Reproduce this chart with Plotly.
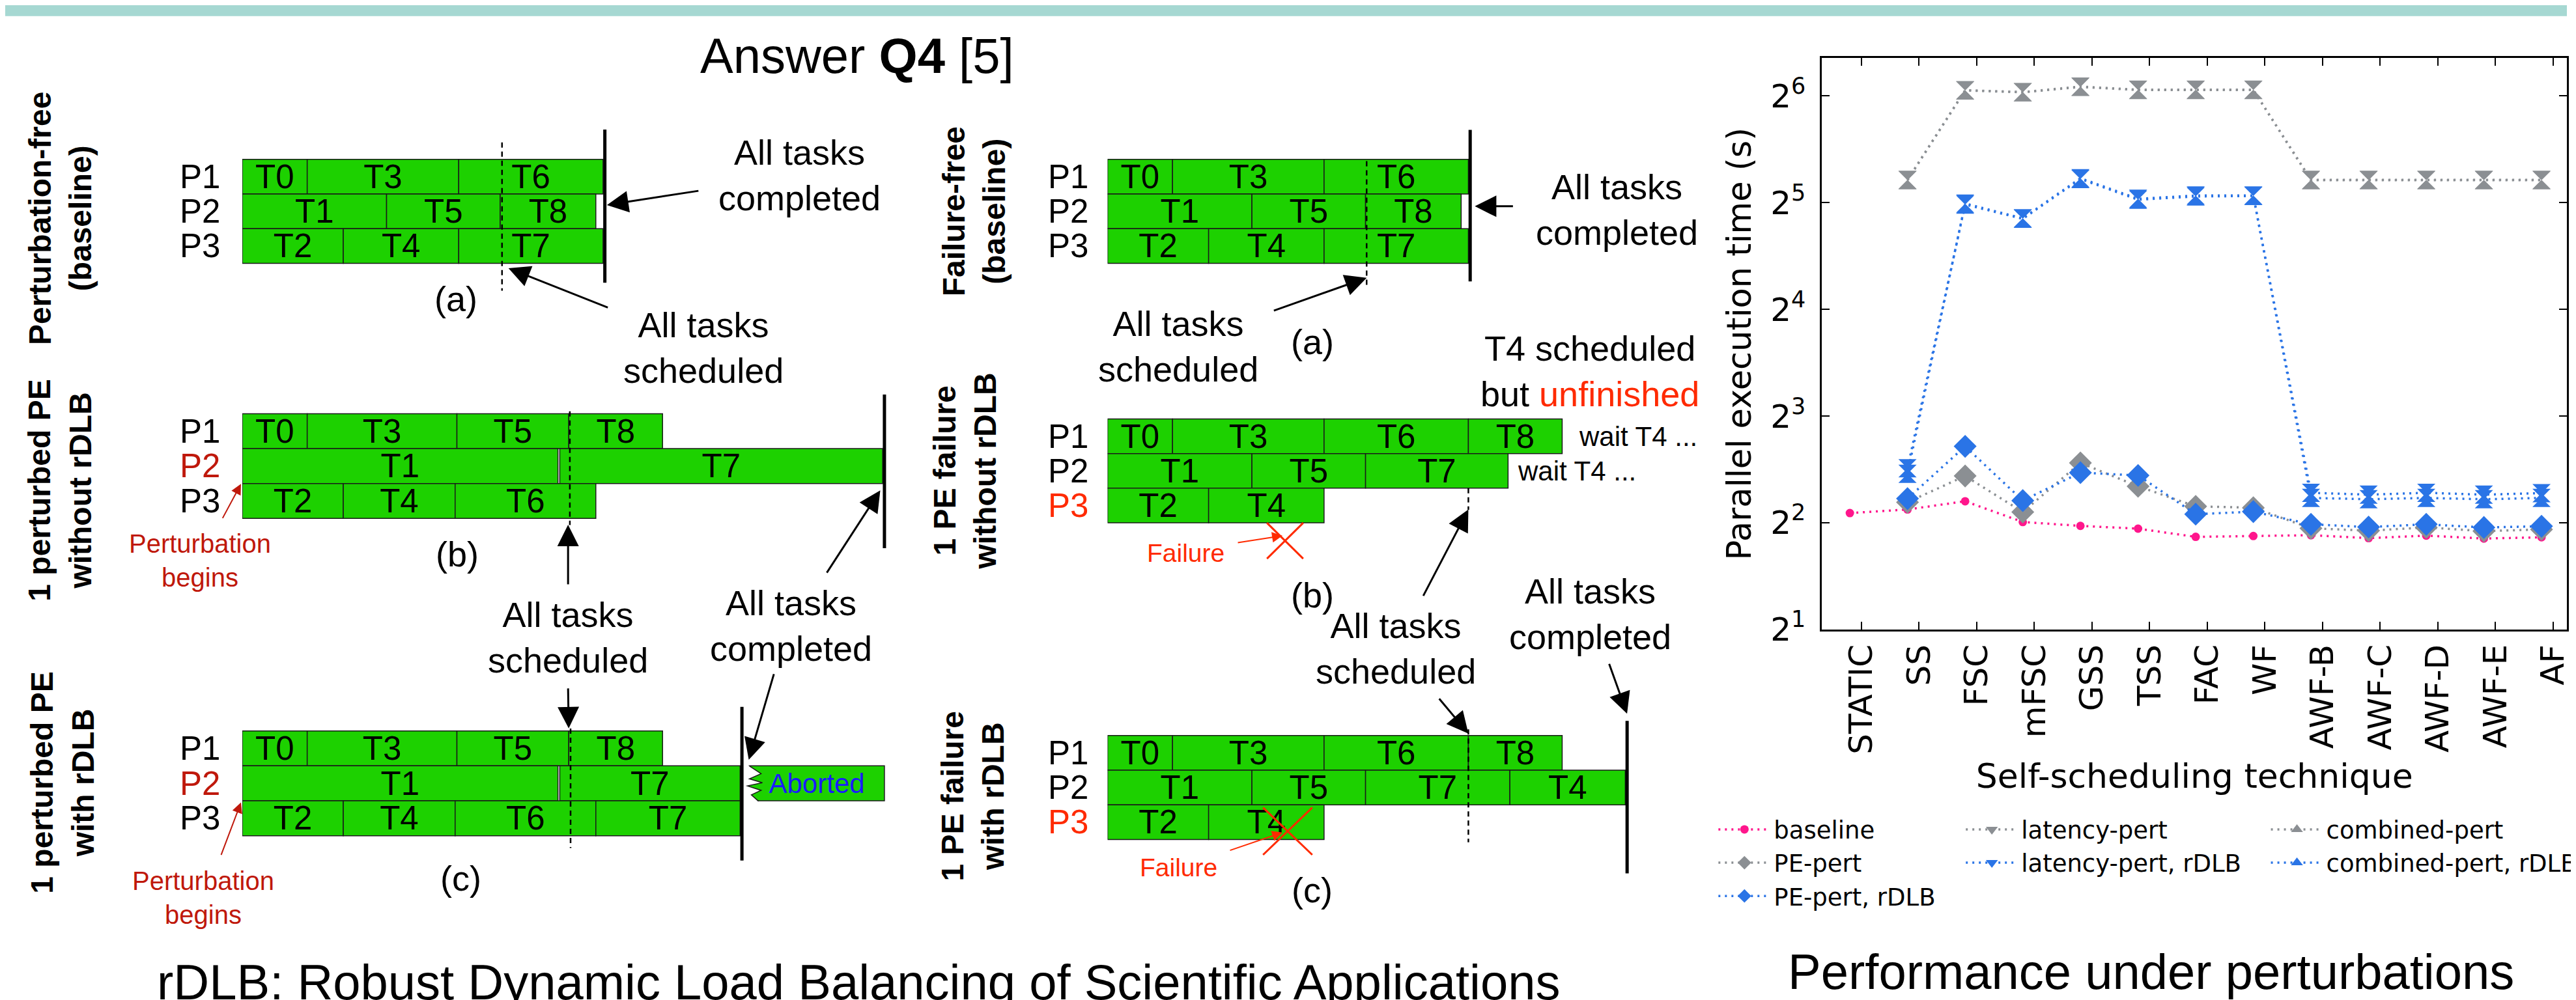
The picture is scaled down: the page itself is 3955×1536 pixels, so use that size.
import math
import plotly.graph_objects as go

W, H = 3955, 1536


def fx(p):
    return p / W


def fy(p):
    return 1 - p / H


# ------------------------------------------------------------------
# DATA : task schedules (processor row 0=P1, 1=P2, 2=P3; times in units)
# ------------------------------------------------------------------
proc_names = ["P1", "P2", "P3"]

la_proc = [0, 0, 0, 1, 1, 1, 2, 2, 2]
la_task = ["T0", "T3", "T6", "T1", "T5", "T8", "T2", "T4", "T7"]
la_start = [0, 18, 60, 0, 40, 71.5, 0, 28, 60]
la_end = [18, 60, 100, 40, 71.5, 98, 28, 60, 100]
la_sched, la_done = 72, 100.5

lb_proc = [0, 0, 0, 0, 1, 1, 2, 2, 2]
lb_task = ["T0", "T3", "T5", "T8", "T1", "T7", "T2", "T4", "T6"]
lb_start = [0, 18, 59.5, 90.5, 0, 88, 0, 28, 59]
lb_end = [18, 59.5, 90.5, 116.5, 87.5, 177.5, 28, 59, 98]
lb_sched, lb_done = 90.8, 178

lc_proc = [0, 0, 0, 0, 1, 1, 2, 2, 2, 2]
lc_task = ["T0", "T3", "T5", "T8", "T1", "T7", "T2", "T4", "T6", "T7"]
lc_start = [0, 18, 59.5, 90.5, 0, 88, 0, 28, 59, 98]
lc_end = [18, 59.5, 90.5, 116.5, 87.5, 138, 28, 59, 98, 138]
lc_abort_proc = [1]
lc_abort_task = ["Aborted"]
lc_abort_start = [140.5]
lc_abort_end = [178]
lc_sched, lc_done = 91, 138.5

ma_proc = [0, 0, 0, 1, 1, 1, 2, 2, 2]
ma_task = ["T0", "T3", "T6", "T1", "T5", "T8", "T2", "T4", "T7"]
ma_start = [0, 18, 60, 0, 40, 71.5, 0, 28, 60]
ma_end = [18, 60, 100, 40, 71.5, 98, 28, 60, 100]
ma_sched, ma_done = 71.8, 100.5

mb_proc = [0, 0, 0, 0, 1, 1, 1, 2, 2]
mb_task = ["T0", "T3", "T6", "T8", "T1", "T5", "T7", "T2", "T4"]
mb_start = [0, 18, 60, 100, 0, 40, 71.5, 0, 28]
mb_end = [18, 60, 100, 126, 40, 71.5, 111, 28, 60]
mb_sched = 100

mc_proc = [0, 0, 0, 0, 1, 1, 1, 1, 2, 2]
mc_task = ["T0", "T3", "T6", "T8", "T1", "T5", "T7", "T4", "T2", "T4"]
mc_start = [0, 18, 60, 100, 0, 40, 71.5, 111.5, 0, 28]
mc_end = [18, 60, 100, 126, 40, 71.5, 111.5, 143.5, 28, 60]
mc_sched, mc_done = 100, 144

# ------------------------------------------------------------------
# DATA : performance chart (parallel execution time, seconds)
# ------------------------------------------------------------------
categories = ["STATIC", "SS", "FSC", "mFSC", "GSS", "TSS", "FAC", "WF",
              "AWF-B", "AWF-C", "AWF-D", "AWF-E", "AF"]
baseline = [4.26, 4.36, 4.60, 4.02, 3.92, 3.85, 3.65, 3.67, 3.69, 3.62, 3.68, 3.61, 3.64]
pe_pert = [None, 4.57, 5.42, 4.29, 5.90, 5.07, 4.45, 4.41, 3.86, 3.80, 3.88, 3.79, 3.83]
latency_pert = [None, 37.1, 66.4, 65.6, 68.0, 66.6, 66.6, 66.6, 37.1, 37.1, 37.1, 37.1, 37.1]
combined_pert = [None, 37.0, 66.3, 65.5, 67.8, 66.5, 66.5, 66.5, 37.0, 37.0, 37.0, 37.0, 37.0]
pe_rdlb = [None, 4.68, 6.57, 4.62, 5.54, 5.44, 4.23, 4.30, 3.96, 3.89, 3.96, 3.88, 3.91]
latency_rdlb = [None, 5.50, 31.8, 28.9, 37.5, 32.8, 33.5, 33.5, 4.70, 4.66, 4.70, 4.66, 4.70]
combined_rdlb = [None, 5.70, 31.6, 28.8, 37.3, 32.6, 33.3, 33.4, 4.86, 4.80, 4.86, 4.80, 4.85]
ytick_vals = [2, 4, 8, 16, 32, 64]
ytick_text = ["2<sup>1</sup>", "2<sup>2</sup>", "2<sup>3</sup>",
              "2<sup>4</sup>", "2<sup>5</sup>", "2<sup>6</sup>"]

# ------------------------------------------------------------------
# STYLE
# ------------------------------------------------------------------
SANS = "Liberation Sans"
DJV = "DejaVu Sans"
GREEN = "#1dd100"
RED_DARK = "#bf180b"
RED = "#ff2a00"
GRAY = "#8b8f93"
BLUE = "#2a74e6"
PINK = "#ff168c"
TEAL = "#a6d8d2"
SCALE = 5.57  # px per time unit

fig = go.Figure()
shapes = []
annos = []

gantts = [
    dict(p=la_proc, t=la_task, s=la_start, e=la_end, sched=la_sched, done=la_done,
         x0=366, rc=268.6, h=54.3, labx=301, red=None,
         sy=(-0.99, 3.29), dy=(-1.36, 3.06)),
    dict(p=lb_proc, t=lb_task, s=lb_start, e=lb_end, sched=lb_sched, done=lb_done,
         x0=366, rc=667.3, h=54.7, labx=301, red=(1, RED_DARK),
         sy=(-0.57, 2.69), dy=(-1.05, 3.35)),
    dict(p=lc_proc, t=lc_task, s=lc_start, e=lc_end, sched=lc_sched, done=lc_done,
         x0=366, rc=1164.3, h=54.7, labx=301, red=(1, RED_DARK),
         sy=(-0.57, 2.85), dy=(-1.19, 3.21)),
    dict(p=ma_proc, t=ma_task, s=ma_start, e=ma_end, sched=ma_sched, done=ma_done,
         x0=1702, rc=268.6, h=54.3, labx=1641, red=None,
         sy=(-0.45, 3.15), dy=(-1.35, 3.02)),
    dict(p=mb_proc, t=mb_task, s=mb_start, e=mb_end, sched=mb_sched, done=None,
         x0=1702, rc=675.2, h=54.3, labx=1641, red=(2, RED),
         sy=(1.5, 2.12), dy=None),
    dict(p=mc_proc, t=mc_task, s=mc_start, e=mc_end, sched=mc_sched, done=mc_done,
         x0=1702, rc=1171.2, h=54.3, labx=1641, red=(2, RED),
         sy=(-0.68, 2.58), dy=(-0.92, 3.48)),
]

layout_axes = {}
for i, g in enumerate(gantts, start=1):
    xa = "xaxis" if i == 1 else f"xaxis{i}"
    ya = "yaxis" if i == 1 else f"yaxis{i}"
    xr = "x" if i == 1 else f"x{i}"
    yr = "y" if i == 1 else f"y{i}"
    layout_axes[xa] = dict(domain=[fx(g["x0"]), fx(g["x0"] + 190 * SCALE)],
                           range=[0, 190], visible=False, anchor=yr, fixedrange=True)
    layout_axes[ya] = dict(domain=[fy(g["rc"] + 4.5 * g["h"]), fy(g["rc"] - 2.5 * g["h"])],
                           range=[4.5, -2.5], visible=False, anchor=xr, fixedrange=True)
    fig.add_trace(go.Bar(
        y=g["p"], base=g["s"], x=[e - s for s, e in zip(g["s"], g["e"])],
        orientation="h", width=1, text=g["t"], textposition="inside",
        insidetextanchor="middle", textangle=0, constraintext="none",
        textfont=dict(family=SANS, size=51, color="black"),
        marker=dict(color=GREEN, line=dict(color="#1a1a1a", width=1.5)),
        xaxis=xr, yaxis=yr, showlegend=False, hoverinfo="skip"))
    if i == 3:
        fig.add_trace(go.Bar(
            y=lc_abort_proc, base=lc_abort_start,
            x=[e - s for s, e in zip(lc_abort_start, lc_abort_end)],
            orientation="h", width=1, text=lc_abort_task, textposition="inside",
            insidetextanchor="middle", textangle=0, constraintext="none",
            textfont=dict(family=SANS, size=42, color="#1a1aff"),
            marker=dict(color=GREEN, line=dict(color="#1a1a1a", width=1.5)),
            xaxis=xr, yaxis=yr, showlegend=False, hoverinfo="skip"))
    # schedule (dashed) and completion (thick) lines
    shapes.append(dict(type="line", xref=xr, yref=yr, x0=g["sched"], x1=g["sched"],
                       y0=g["sy"][0], y1=g["sy"][1],
                       line=dict(color="black", width=2.5, dash="8px,6px")))
    if g["done"] is not None:
        shapes.append(dict(type="line", xref=xr, yref=yr, x0=g["done"], x1=g["done"],
                           y0=g["dy"][0], y1=g["dy"][1],
                           line=dict(color="black", width=5)))
    # processor labels
    for r, name in enumerate(proc_names):
        col = "black"
        if g["red"] is not None and g["red"][0] == r:
            col = g["red"][1]
        annos.append(dict(x=fx(g["labx"]), xref="paper", y=r, yref=yr, text=name,
                          showarrow=False, font=dict(family=SANS, size=51, color=col),
                          xanchor="center", yanchor="middle"))

# ------------------------------------------------------------------
# Performance chart
# ------------------------------------------------------------------
xi = list(range(len(categories)))
dotted = "3px,7px"


def line_trace(name, y, color, symbol, size, legend=None, show=True):
    return go.Scatter(x=xi, y=y, name=name, mode="lines+markers",
                      line=dict(color=color, width=3.5, dash=dotted),
                      marker=dict(symbol=symbol, size=size, color=color, line=dict(width=0)),
                      xaxis="x7", yaxis="y7", showlegend=show,
                      legend=legend if legend else "legend", hoverinfo="skip",
                      connectgaps=False)


fig.add_trace(line_trace("baseline", baseline, PINK, "circle", 13))
fig.add_trace(line_trace("PE-pert", pe_pert, GRAY, "diamond", 27))
fig.add_trace(line_trace("latency-pert", latency_pert, GRAY, "hourglass", 28, show=False))
fig.add_trace(line_trace("combined-pert", combined_pert, GRAY, "hourglass", 28, show=False))
fig.add_trace(line_trace("PE-pert, rDLB", pe_rdlb, BLUE, "diamond", 27))
fig.add_trace(line_trace("latency-pert, rDLB", latency_rdlb, BLUE, "hourglass", 28, show=False))
fig.add_trace(line_trace("combined-pert, rDLB", combined_rdlb, BLUE, "hourglass", 28, show=False))

# legend proxies (triangle glyphs as in the original legend)
for nm, col, sym, lg in [("latency-pert", GRAY, "triangle-down", "legend2"),
                         ("latency-pert, rDLB", BLUE, "triangle-down", "legend2"),
                         ("combined-pert", GRAY, "triangle-up", "legend3"),
                         ("combined-pert, rDLB", BLUE, "triangle-up", "legend3")]:
    fig.add_trace(go.Scatter(x=[None], y=[None], name=nm, mode="lines+markers",
                             line=dict(color=col, width=3.5, dash=dotted),
                             marker=dict(symbol=sym, size=16, color=col),
                             xaxis="x7", yaxis="y7", legend=lg, hoverinfo="skip"))

ytop = 6.353 * math.log10(2)
layout_axes["xaxis7"] = dict(
    domain=[fx(2805), 1.0], range=[-0.483, 12.44], anchor="y7",
    tickvals=[v + 0.2 for v in xi], ticktext=categories, tickangle=-90,
    ticks="inside", ticklen=12, tickwidth=2, tickcolor="black",
    showline=True, linewidth=3, linecolor="black", mirror="ticks",
    showgrid=False, zeroline=False,
    tickfont=dict(family=DJV, size=50, color="black"),
    title=dict(text="Self-scheduling technique", standoff=16,
               font=dict(family=DJV, size=52, color="black")),
    fixedrange=True)
layout_axes["yaxis7"] = dict(
    domain=[fy(978), fy(83)], type="log", range=[math.log10(2), ytop], anchor="x7",
    tickvals=ytick_vals, ticktext=ytick_text,
    ticks="inside", ticklen=12, tickwidth=2, tickcolor="black",
    showline=True, linewidth=3, linecolor="black", mirror="ticks",
    showgrid=False, zeroline=False, ticklabelstandoff=12,
    tickfont=dict(family=DJV, size=50, color="black"),
    title=dict(text="Parallel execution time (s)", standoff=14,
               font=dict(family=DJV, size=51, color="black")),
    fixedrange=True)

# ------------------------------------------------------------------
# Text / arrows (decoration, paper coordinates in px)
# ------------------------------------------------------------------


def text(x, y, s, size=54, color="black", bold=False, angle=0, family=SANS,
         xanchor="center"):
    if bold:
        s = "<b>" + s.replace("<br>", "</b><br><b>") + "</b>"
    annos.append(dict(x=fx(x), y=fy(y), xref="paper", yref="paper", text=s,
                      showarrow=False, textangle=angle, xanchor=xanchor,
                      yanchor="middle",
                      font=dict(family=family, size=size, color=color)))


def arrow(tail, head, color="black", width=3, size=2.2, head_style=2):
    annos.append(dict(x=fx(head[0]), y=fy(head[1]), xref="paper", yref="paper",
                      ax=tail[0] - head[0], ay=tail[1] - head[1],
                      axref="pixel", ayref="pixel", text="", showarrow=True,
                      arrowhead=head_style, arrowsize=size, arrowwidth=width,
                      arrowcolor=color, standoff=0, startstandoff=0))


def xmark(cx, cy, hw, hh):
    for (a, b) in [((cx - hw, cy - hh), (cx + hw, cy + hh)),
                   ((cx + hw, cy - hh), (cx - hw, cy + hh))]:
        shapes.append(dict(type="line", xref="paper", yref="paper",
                           x0=fx(a[0]), y0=fy(a[1]), x1=fx(b[0]), y1=fy(b[1]),
                           line=dict(color=RED, width=3)))


def ppath(points, close=False):
    s = "M " + " L ".join(f"{fx(x):.5f},{fy(y):.5f}" for x, y in points)
    return s + (" Z" if close else "")


# titles
text(1315, 79, "Answer <b>Q4</b> [5]", size=76)
text(1317, 1530, "rDLB: Robust Dynamic Load Balancing of Scientific Applications", size=76)
text(3313, 1514, "Performance under perturbations", size=76)

# rotated row titles
text(85, 334, "Perturbation-free<br>(baseline)", size=48, bold=True, angle=-90)
text(84, 760, "1 perturbed PE<br>without rDLB", size=48, bold=True, angle=-90)
text(88, 1218, "1 perturbed PE<br>with rDLB", size=48, bold=True, angle=-90)
text(1496, 323, "Failure-free<br>(baseline)", size=48, bold=True, angle=-90)
text(1482, 730, "1 PE failure<br>without rDLB", size=48, bold=True, angle=-90)
text(1494, 1239, "1 PE failure<br>with rDLB", size=48, bold=True, angle=-90)

# left column
text(1226, 266, "All tasks<br>completed")
arrow((1071, 291), (929, 313))
text(1078, 536, "All tasks<br>scheduled")
arrow((931, 473), (777, 412))
text(696, 460, "(a)")
text(698, 860, "(b)")
text(703, 1368, "(c)")
text(301, 870, "Perturbation<br>begins", size=40, color=RED_DARK)
arrow((335, 804), (364, 750), color=RED_DARK, width=2, size=1.6)
text(306, 1398, "Perturbation<br>begins", size=40, color=RED_DARK)
arrow((333, 1331), (364, 1249), color=RED_DARK, width=2, size=1.6)
text(869, 990, "All tasks<br>scheduled")
arrow((869, 907), (869, 814))
arrow((869, 1070), (870, 1133))
text(1213, 972, "All tasks<br>completed")
arrow((1268, 888), (1351, 760))
arrow((1187, 1049), (1148, 1182))

# zig-zag left edge of the aborted task
zig = [(1149, 1192), (1167, 1204), (1149, 1212), (1169, 1218), (1146, 1223),
       (1167, 1230), (1152, 1237), (1163, 1247)]
shapes.append(dict(type="path", xref="paper", yref="paper",
                   path=ppath([(1141, 1190)] + zig + [(1141, 1249)], close=True),
                   fillcolor="white", line=dict(width=0)))
shapes.append(dict(type="path", xref="paper", yref="paper", path=ppath(zig),
                   line=dict(color="#1a1a1a", width=1.5)))

# middle column
text(2488, 320, "All tasks<br>completed")
arrow((2329, 315), (2269, 315))
text(1811, 534, "All tasks<br>scheduled")
arrow((1958, 478), (2102, 427))
text(2018, 527, "(a)")
text(2447, 573, "T4 scheduled<br>but <span style='color:#ff2a00'>unfinished</span>")
annos.append(dict(x=fx(2428), xref="paper", y=0, yref="y5", text="wait T4 ...",
                  showarrow=False, xanchor="left", yanchor="middle",
                  font=dict(family=SANS, size=42, color="black")))
annos.append(dict(x=fx(2333), xref="paper", y=1, yref="y5", text="wait T4 ...",
                  showarrow=False, xanchor="left", yanchor="middle",
                  font=dict(family=SANS, size=42, color="black")))
xmark(1976, 839, 28, 28)
text(1823, 858, "Failure", size=39, color=RED)
arrow((1902, 842), (1972, 831), color=RED, width=2, size=1.6)
text(2018, 924, "(b)")
arrow((2189, 924), (2259, 790))
text(2147, 1008, "All tasks<br>scheduled")
text(2447, 954, "All tasks<br>completed")
arrow((2476, 1032), (2504, 1110))
arrow((2213, 1086), (2259, 1141))
xmark(1980, 1294, 38, 37)
text(1812, 1351, "Failure", size=39, color=RED)
arrow((1890, 1324), (1972, 1296), color=RED, width=2, size=1.6)
text(2018, 1386, "(c)")

# top teal band
shapes.append(dict(type="rect", xref="paper", yref="paper", x0=0, x1=1,
                   y0=fy(17), y1=1, fillcolor=TEAL, line=dict(width=0), layer="below"))

legend_common = dict(bgcolor="rgba(0,0,0,0)", borderwidth=0, itemwidth=80,
                     font=dict(family=DJV, size=37, color="black"),
                     orientation="v", xanchor="left", yanchor="top",
                     tracegroupgap=0, itemclick=False, itemdoubleclick=False)

fig.update_layout(
    width=W, height=H, margin=dict(l=0, r=0, t=0, b=0),
    paper_bgcolor="white", plot_bgcolor="rgba(0,0,0,0)",
    barmode="overlay", showlegend=True,
    font=dict(family=SANS, color="black"),
    shapes=shapes, annotations=annos,
    legend=dict(x=fx(2640), y=fy(1260), **legend_common),
    legend2=dict(x=fx(3022), y=fy(1260), **legend_common),
    legend3=dict(x=fx(3493), y=fy(1260), **legend_common),
    **layout_axes,
)

fig.write_html("out.html")
